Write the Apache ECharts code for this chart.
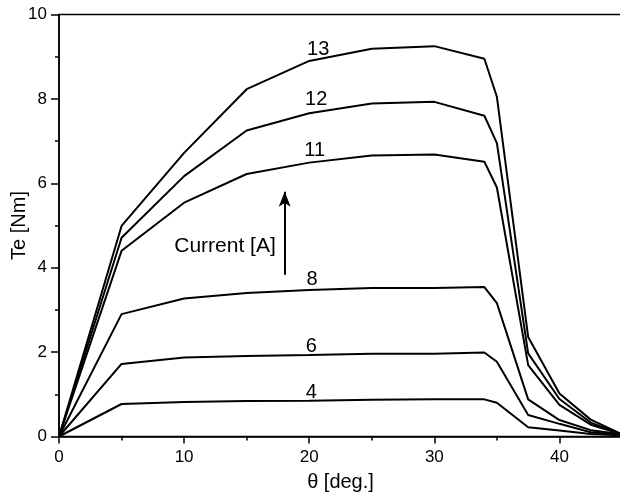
<!DOCTYPE html>
<html>
<head>
<meta charset="utf-8">
<script src="https://cdn.jsdelivr.net/npm/echarts@6/dist/echarts.min.js"></script>
<style>
  html, body { margin: 0; padding: 0; background: #fff; }
  #chart { width: 620px; height: 497px; }
</style>
</head>
<body>
<div id="chart"></div>
<script>
// rotor angle samples, deg
const theta = [0, 5, 10, 15, 20, 25, 30, 34, 35, 37.5, 40, 42.5, 45]
// torque per phase current, Nm
const te13 = [0, 4.99, 6.72, 8.23, 8.90, 9.19, 9.25, 8.95, 8.05, 2.36, 1.02, 0.40, 0.05]
const te12 = [0, 4.71, 6.17, 7.25, 7.66, 7.89, 7.93, 7.60, 6.95, 1.97, 0.89, 0.33, 0.05]
const te11 = [0, 4.40, 5.54, 6.22, 6.49, 6.66, 6.68, 6.51, 5.90, 1.69, 0.75, 0.28, 0.05]
const te8 = [0, 2.90, 3.27, 3.40, 3.47, 3.52, 3.52, 3.54, 3.16, 0.88, 0.39, 0.15, 0.05]
const te6 = [0, 1.72, 1.87, 1.91, 1.93, 1.96, 1.96, 1.99, 1.77, 0.51, 0.30, 0.10, 0.04]
const te4 = [0, 0.77, 0.82, 0.84, 0.85, 0.87, 0.88, 0.88, 0.80, 0.22, 0.14, 0.06, 0.03]
const currents = ['13', '12', '11', '8', '6', '4']
// where each current label sits (theta, Te)
const labelX = [20.72, 20.56, 20.44, 20.22, 20.16, 20.16]
const labelY = [9.17, 7.99, 6.77, 3.72, 2.14, 1.05]

const font = 'Liberation Sans, Arial, sans-serif'
const curves = [te13, te12, te11, te8, te6, te4]

const chart = echarts.init(document.getElementById('chart'))

const lineSeries = curves.map((ys, i) => ({
  name: currents[i],
  type: 'line',
  symbol: 'none',
  lineStyle: { color: '#000', width: 2 },
  data: theta.map((t, k) => [t, ys[k]])
}))

chart.setOption({
  animation: false,
  grid: {
    left: 59, right: -2, top: 14.5, bottom: 60.5,
    outerBoundsMode: 'none',
    containLabel: false,
    show: true, borderColor: '#000', borderWidth: 1.5
  },
  xAxis: [
    {
      type: 'value', min: 0, max: 45, interval: 10,
      axisLine: { lineStyle: { color: '#000', width: 1.5 } },
      axisTick: { length: 7, lineStyle: { color: '#000', width: 1.5 } },
      axisLabel: {
        color: '#000', fontSize: 17, fontFamily: font, margin: 12,
        formatter: v => (v % 10 === 0 ? v : '')
      },
      splitLine: { show: false },
      name: 'θ [deg.]', nameLocation: 'middle', nameGap: 36,
      nameMoveOverlap: false,
      nameTextStyle: { color: '#000', fontSize: 20, fontFamily: font }
    },
    {
      type: 'value', min: 0, max: 45, interval: 5, position: 'bottom',
      axisLine: { show: false },
      axisTick: { length: 4, lineStyle: { color: '#000', width: 1.5 } },
      axisLabel: { show: false },
      splitLine: { show: false }
    }
  ],
  yAxis: {
    type: 'value', min: 0, max: 10, interval: 2,
    axisLine: { lineStyle: { color: '#000', width: 1.5 } },
    axisTick: { length: 8, lineStyle: { color: '#000', width: 1.5 } },
    minorTick: { show: true, splitNumber: 2, length: 4, lineStyle: { color: '#000', width: 1.5 } },
    axisLabel: { color: '#000', fontSize: 17, fontFamily: font, margin: 12 },
    splitLine: { show: false },
    minorSplitLine: { show: false },
    name: 'Te [Nm]', nameLocation: 'middle', nameGap: 30, nameRotate: 90,
    nameMoveOverlap: false,
    nameTextStyle: { color: '#000', fontSize: 20, fontFamily: font }
  },
  graphic: [
    {
      type: 'text', x: 225, y: 246,
      style: {
        text: 'Current [A]', fill: '#000', font: '21px ' + font,
        textAlign: 'center', textVerticalAlign: 'middle'
      }
    }
  ],
  series: [
    ...lineSeries,
    {
      type: 'scatter',
      symbolSize: 0,
      itemStyle: { color: '#000', opacity: 1 },
      label: {
        show: true, position: 'inside', color: '#000', opacity: 1,
        textBorderWidth: 0,
        fontSize: 20, fontFamily: font,
        formatter: p => p.value[2]
      },
      data: currents.map((c, i) => [labelX[i], labelY[i], c]),
      markLine: {
        silent: true,
        symbol: ['none', 'arrow'],
        symbolSize: [9, 15],
        label: { show: false },
        lineStyle: { color: '#000', width: 2, type: 'solid' },
        data: [[{ coord: [18.04, 3.83] }, { coord: [18.04, 5.80] }]]
      }
    }
  ]
})
</script>
</body>
</html>
